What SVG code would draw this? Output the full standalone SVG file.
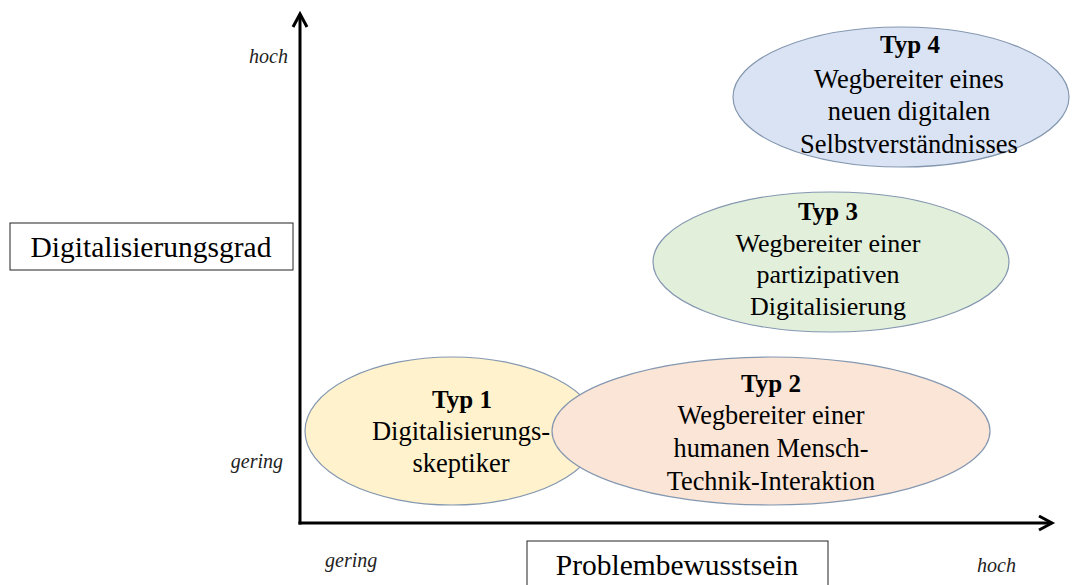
<svg xmlns="http://www.w3.org/2000/svg" width="1075" height="585" viewBox="0 0 1075 585">
<style>
.t{font-family:"Liberation Serif","Times New Roman",serif;font-size:26.5px;fill:#000;text-anchor:middle}
.b{font-weight:bold;font-size:25px}
.i{font-family:"Liberation Serif","Times New Roman",serif;font-size:20px;font-style:italic;fill:#222}
.box{fill:#fff;stroke:#222;stroke-width:1}
.ax{stroke:#000;stroke-width:3;fill:none;stroke-linecap:square}
.ah{stroke:#000;stroke-width:3;fill:none;stroke-linejoin:miter}
.el{stroke:#8497b0;stroke-width:1.2}
</style>
<g id="axes">
<path class="ax" d="M300,523 L300,16"/>
<path class="ax" d="M300,523 L1050,523"/>
<path class="ah" d="M293,27 L300,14 L307,27"/>
<path class="ah" d="M1039,516 L1052,523 L1039,530"/>
</g>
<g id="ylabel">
<rect class="box" x="10" y="223" width="283" height="47"/>
<text class="t" x="151" y="257" style="font-size:29.5px">Digitalisierungsgrad</text>
</g>
<g id="xlabel">
<rect class="box" x="527" y="541" width="301" height="50"/>
<text class="t" x="677" y="575" style="font-size:29.5px">Problembewusstsein</text>
</g>
<g id="ticks">
<text class="i" x="288" y="63" text-anchor="end">hoch</text>
<text class="i" x="283" y="468" text-anchor="end">gering</text>
<text class="i" x="325" y="567">gering</text>
<text class="i" x="977" y="572">hoch</text>
</g>
<g id="typ1">
<ellipse class="el" cx="452" cy="431" rx="147" ry="74" fill="#fff2cc"/>
<text class="t b" x="462" y="408">Typ 1</text>
<text class="t" x="461" y="440">Digitalisierungs-</text>
<text class="t" x="461" y="472">skeptiker</text>
</g>
<g id="typ2">
<ellipse class="el" cx="771" cy="431" rx="219" ry="74" fill="#fbe5d6"/>
<text class="t b" x="771" y="392">Typ 2</text>
<text class="t" x="771" y="424" style="font-size:26.3px">Wegbereiter einer</text>
<text class="t" x="771" y="457" style="font-size:26.3px">humanen Mensch-</text>
<text class="t" x="771" y="490" style="font-size:26.3px">Technik-Interaktion</text>
</g>
<g id="typ3">
<ellipse class="el" cx="831" cy="262" rx="178" ry="70" fill="#e2efda"/>
<text class="t b" x="828" y="220">Typ 3</text>
<text class="t" x="828" y="252" style="font-size:26px">Wegbereiter einer</text>
<text class="t" x="828" y="283" style="font-size:26px">partizipativen</text>
<text class="t" x="828" y="315" style="font-size:26px">Digitalisierung</text>
</g>
<g id="typ4">
<ellipse class="el" cx="901" cy="97" rx="168" ry="70" fill="#dae3f3"/>
<text class="t b" x="910" y="53">Typ 4</text>
<text class="t" x="909" y="88">Wegbereiter eines</text>
<text class="t" x="909" y="120">neuen digitalen</text>
<text class="t" x="909" y="153">Selbstverständnisses</text>
</g>
</svg>
